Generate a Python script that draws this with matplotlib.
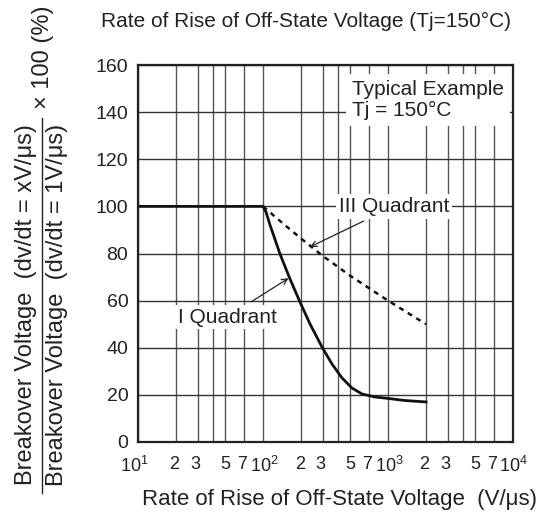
import numpy as np
import matplotlib
matplotlib.use('Agg')
import matplotlib.pyplot as plt
from matplotlib.lines import Line2D
from matplotlib.transforms import ScaledTranslation

plt.rcParams['font.family'] = ['Liberation Sans', 'DejaVu Sans']
plt.rcParams['mathtext.fontset'] = 'custom'
plt.rcParams['mathtext.rm'] = 'Liberation Sans'
plt.rcParams['mathtext.it'] = 'Liberation Sans:italic'

# data
q1_x = [10, 100, 105.7, 113.8, 136.8, 164.4, 197.7, 237.7, 296.5, 356.5, 428.5, 515, 619, 787, 1000, 1368, 2014]
q1_y = [100, 100, 97.6, 92.1, 79.8, 69.2, 59.4, 50.1, 40.3, 33.1, 27.2, 22.9, 20.4, 19.1, 18.5, 17.6, 17.0]
q3_x = [100, 150, 200, 300, 500, 1000, 2014]
q3_y = [100, 92, 86.5, 79, 70.5, 60, 50]

major = [10, 100, 1000, 10000]
minor_grid = [m * d for d in [10, 100, 1000] for m in [2, 3, 4, 5, 7]]
tick_pos = [m * d for d in [10, 100, 1000] for m in [1, 2, 3, 5, 7]] + [10000]
tick_lab = []
for d in [1, 2, 3]:
    tick_lab += ['$10^{%d}$' % d, '2', '3', '5', '7']
tick_lab += ['$10^{4}$']
# small sideways nudges of the x tick labels (pixels), as in the original
tick_nudge = [-4, -2, -2, 0, -2, 1, -1, -2, 0, -2, 1, -2, -2, 0, -2, 0]
y_ticks = list(range(0, 161, 20))

W, H = 548, 526
fig = plt.figure(figsize=(W / 100, H / 100), dpi=100)
ax = fig.add_axes([138 / W, (H - 442) / H, 375 / W, (442 - 65) / H])
ax.set_xscale('log')
ax.set_xlim(10, 10000)
ax.set_ylim(0, 160)

# grid
for xv in minor_grid + major:
    ax.axvline(xv, color='#555555', lw=1.0, zorder=1)
for yv in y_ticks:
    ax.axhline(yv, color='#333333', lw=1.0, zorder=1)

ax.plot(q1_x, q1_y, color='#111111', lw=2.0, zorder=4, solid_joinstyle='round')
ax.plot(q3_x, q3_y, color='#111111', lw=1.8, dashes=(2, 2), zorder=4)

ax.set_xticks(tick_pos)
ax.set_xticklabels(tick_lab)
ax.xaxis.set_minor_locator(matplotlib.ticker.NullLocator())
ax.set_yticks(y_ticks)
ax.tick_params(axis='both', length=0, labelsize=14, colors='#222222')
ax.tick_params(axis='x', pad=10, labelsize=13)
ax.tick_params(axis='y', pad=7)
for lab, dx in zip(ax.get_xticklabels(), tick_nudge):
    lab.set_transform(lab.get_transform() + ScaledTranslation(dx / 100, 0, fig.dpi_scale_trans))
for s in ax.spines.values():
    s.set_linewidth(1.6)
    s.set_color('#222222')
    s.set_zorder(5)

box = dict(facecolor='white', edgecolor='none', pad=2)
ax.text(515, 153.6, 'Typical Example\nTj = 150°C', ha='left', va='top',
        fontsize=15, color='#222222', linespacing=1.15,
        bbox=dict(facecolor='white', edgecolor='none', pad=4), zorder=6)
ax.annotate('III Quadrant', xy=(238, 82.8), xytext=(1117, 100),
            ha='center', va='center', fontsize=15, color='#222222', bbox=box,
            arrowprops=dict(arrowstyle='->', color='#222222', lw=0.9,
                            shrinkA=4, shrinkB=0, mutation_scale=10), zorder=6)
ax.annotate('I Quadrant', xy=(160, 69.5), xytext=(51.5, 53),
            ha='center', va='center', fontsize=15, color='#222222', bbox=box,
            arrowprops=dict(arrowstyle='->', color='#222222', lw=0.9,
                            shrinkA=4, shrinkB=0, mutation_scale=10), zorder=6)

# title and axis labels
fig.text(306 / W, 1 - 27 / H, 'Rate of Rise of Off-State Voltage (Tj=150°C)',
         ha='center', va='baseline', fontsize=15, color='#222222')
fig.text(340 / W, 1 - 505 / H, 'Rate of Rise of Off-State Voltage  (V/\u03bcs)',
         ha='center', va='baseline', fontsize=16, color='#222222')

yc = 1 - 305 / H
fig.text(26 / W, yc, 'Breakover Voltage  (dv/dt = xV/\u03bcs)', rotation=90,
         ha='center', va='center', fontsize=17, color='#222222')
fig.text(57 / W, yc, 'Breakover Voltage  (dv/dt = 1V/\u03bcs)', rotation=90,
         ha='center', va='center', fontsize=17, color='#222222')
fig.add_artist(Line2D([42 / W, 42 / W], [1 - 118 / H, 1 - 493 / H],
                      transform=fig.transFigure, color='#222222', lw=1.0))
fig.text(43 / W, 1 - 57 / H, '\u00d7 100 (%)', rotation=90,
         ha='center', va='center', fontsize=17, color='#222222')

fig.savefig('out.png', dpi=100)
